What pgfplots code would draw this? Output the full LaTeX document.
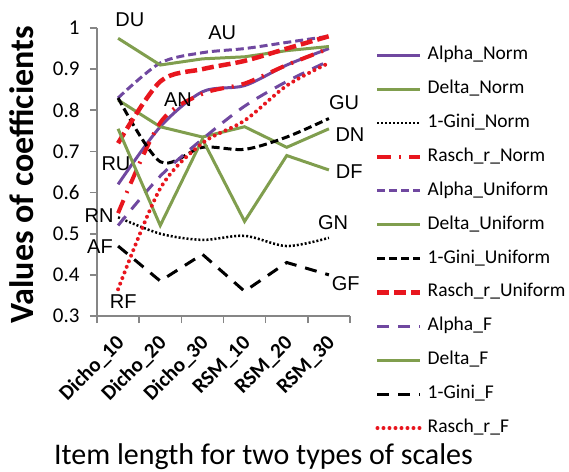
\documentclass[border=0pt]{standalone}
\usepackage{pgfplots}
\pgfplotsset{compat=1.18}
\usepackage{fontspec}
\setmainfont{Carlito}
\newfontfamily\arial{Liberation Sans}
\definecolor{cpurple}{RGB}{112,72,160}
\definecolor{cgreen}{RGB}{128,158,78}
\definecolor{cred}{RGB}{232,22,30}
\definecolor{caxis}{RGB}{134,134,134}
\begin{document}
\begin{tikzpicture}
\begin{axis}[
  scale only axis, width=253pt, height=288pt,
  at={(0pt,0pt)}, anchor=south west,
  xmin=-0.5, xmax=5.5, ymin=0.3, ymax=1,
  axis lines=left,
  axis line style={-, draw=caxis, line width=1.6pt},
  clip=false,
  xtick={-0.5,0.5,1.5,2.5,3.5,4.5,5.5},
  xticklabels={},
  extra x ticks={0,1,2,3,4,5},
  extra x tick labels={Dicho\_10,Dicho\_20,Dicho\_30,RSM\_10,RSM\_20,RSM\_30},
  extra x tick style={major tick length=0pt,
     xticklabel style={yshift=-24pt, xshift=3pt, rotate=45, anchor=east, inner sep=0pt, font=\bfseries\fontsize{21}{24}\selectfont}},
  ytick={0.3,0.4,0.5,0.6,0.7,0.8,0.9,1},
  yticklabels={0.3,0.4,0.5,0.6,0.7,0.8,0.9,1},
  yticklabel style={font=\fontsize{21}{24}\selectfont, xshift=-7pt},
  tick align=outside,
  major tick length=7pt,
  tick style={draw=caxis, line width=1.6pt},
  ylabel={Values of coefficients},
  ylabel style={font=\bfseries\fontsize{34}{38}\selectfont, at={(axis description cs:-0.296,0.49)}, anchor=center},
  xlabel={Item length for two types of scales},
  xlabel style={font=\fontsize{30}{33}\selectfont, at={(axis description cs:0.658,-0.517)}, anchor=base},
  legend image code/.code={\draw[#1] (0pt,0pt) -- (43pt,0pt);},
  legend cell align=left,
  legend style={at={(axis description cs:1.099,0.936)}, anchor=north west, draw=none, fill=none,
     font=\fontsize{19.5}{22}\selectfont, inner sep=0pt, row sep=16.9pt, column sep=5pt,
     nodes={inner sep=0pt, text height=13pt, text depth=4pt}},
]
% Alpha_Norm
\addplot[cpurple, line width=3pt, smooth] coordinates {(0,0.62) (1,0.76) (2,0.845) (3,0.86) (4,0.91) (5,0.95)};
\addlegendentry{Alpha\_Norm}
% Delta_Norm
\addplot[cgreen, line width=3pt] coordinates {(0,0.825) (1,0.76) (2,0.735) (3,0.76) (4,0.71) (5,0.755)};
\addlegendentry{Delta\_Norm}
% 1-Gini_Norm
\addplot[black, line width=2.5pt, dash pattern=on 2pt off 2pt, smooth] coordinates {(0,0.54) (1,0.50) (2,0.485) (3,0.495) (4,0.47) (5,0.49)};
\addlegendentry{1-Gini\_Norm}
% Rasch_r_Norm
\addplot[cred, line width=4pt, dash pattern=on 14pt off 8pt on 2pt off 8pt, smooth] coordinates {(0,0.55) (1,0.77) (2,0.84) (3,0.865) (4,0.91) (5,0.95)};
\addlegendentry{Rasch\_r\_Norm}
% Alpha_Uniform
\addplot[cpurple, line width=3pt, dash pattern=on 8pt off 4pt, smooth] coordinates {(0,0.83) (1,0.915) (2,0.94) (3,0.95) (4,0.965) (5,0.98)};
\addlegendentry{Alpha\_Uniform}
% Delta_Uniform
\addplot[cgreen, line width=3pt] coordinates {(0,0.975) (1,0.91) (2,0.925) (3,0.93) (4,0.945) (5,0.955)};
\addlegendentry{Delta\_Uniform}
% 1-Gini_Uniform
\addplot[black, line width=3pt, dash pattern=on 8pt off 4pt, smooth] coordinates {(0,0.83) (1,0.675) (2,0.71) (3,0.705) (4,0.735) (5,0.78)};
\addlegendentry{1-Gini\_Uniform}
% Rasch_r_Uniform
\addplot[cred, line width=4.5pt, dash pattern=on 12pt off 5pt, smooth] coordinates {(0,0.72) (1,0.87) (2,0.90) (3,0.92) (4,0.95) (5,0.98)};
\addlegendentry{Rasch\_r\_Uniform}
% Alpha_F
\addplot[cpurple, line width=3pt, dash pattern=on 12pt off 9pt, smooth] coordinates {(0,0.52) (1,0.64) (2,0.73) (3,0.81) (4,0.87) (5,0.92)};
\addlegendentry{Alpha\_F}
% Delta_F
\addplot[cgreen, line width=3pt] coordinates {(0,0.755) (1,0.52) (2,0.73) (3,0.53) (4,0.69) (5,0.655)};
\addlegendentry{Delta\_F}
% 1-Gini_F
\addplot[black, line width=3pt, dash pattern=on 12pt off 9pt] coordinates {(0,0.47) (1,0.385) (2,0.45) (3,0.36) (4,0.43) (5,0.40)};
\addlegendentry{1-Gini\_F}
% Rasch_r_F
\addplot[cred, line width=4pt, line cap=round, dash pattern=on 0pt off 6pt, smooth] coordinates {(0,0.365) (1,0.61) (2,0.72) (3,0.775) (4,0.86) (5,0.915)};
\addlegendentry{Rasch\_r\_F}
% curve labels
\begin{scope}[font=\arial\fontsize{20}{22}\selectfont]
\node at (axis cs:0.28,1.02) {DU};
\node at (axis cs:2.47,0.988) {AU};
\node at (axis cs:1.42,0.825) {AN};
\node at (axis cs:5.36,0.818) {GU};
\node at (axis cs:5.5,0.74) {DN};
\node at (axis cs:5.48,0.652) {DF};
\node at (axis cs:-0.05,0.669) {RU};
\node at (axis cs:-0.45,0.545) {RN};
\node at (axis cs:-0.43,0.468) {AF};
\node at (axis cs:0.12,0.334) {RF};
\node at (axis cs:5.1,0.528) {GN};
\node at (axis cs:5.4,0.378) {GF};
\end{scope}
\end{axis}
\pgfresetboundingbox
\useasboundingbox (-97pt,-155pt) rectangle (472pt,316pt);
\end{tikzpicture}
\end{document}
